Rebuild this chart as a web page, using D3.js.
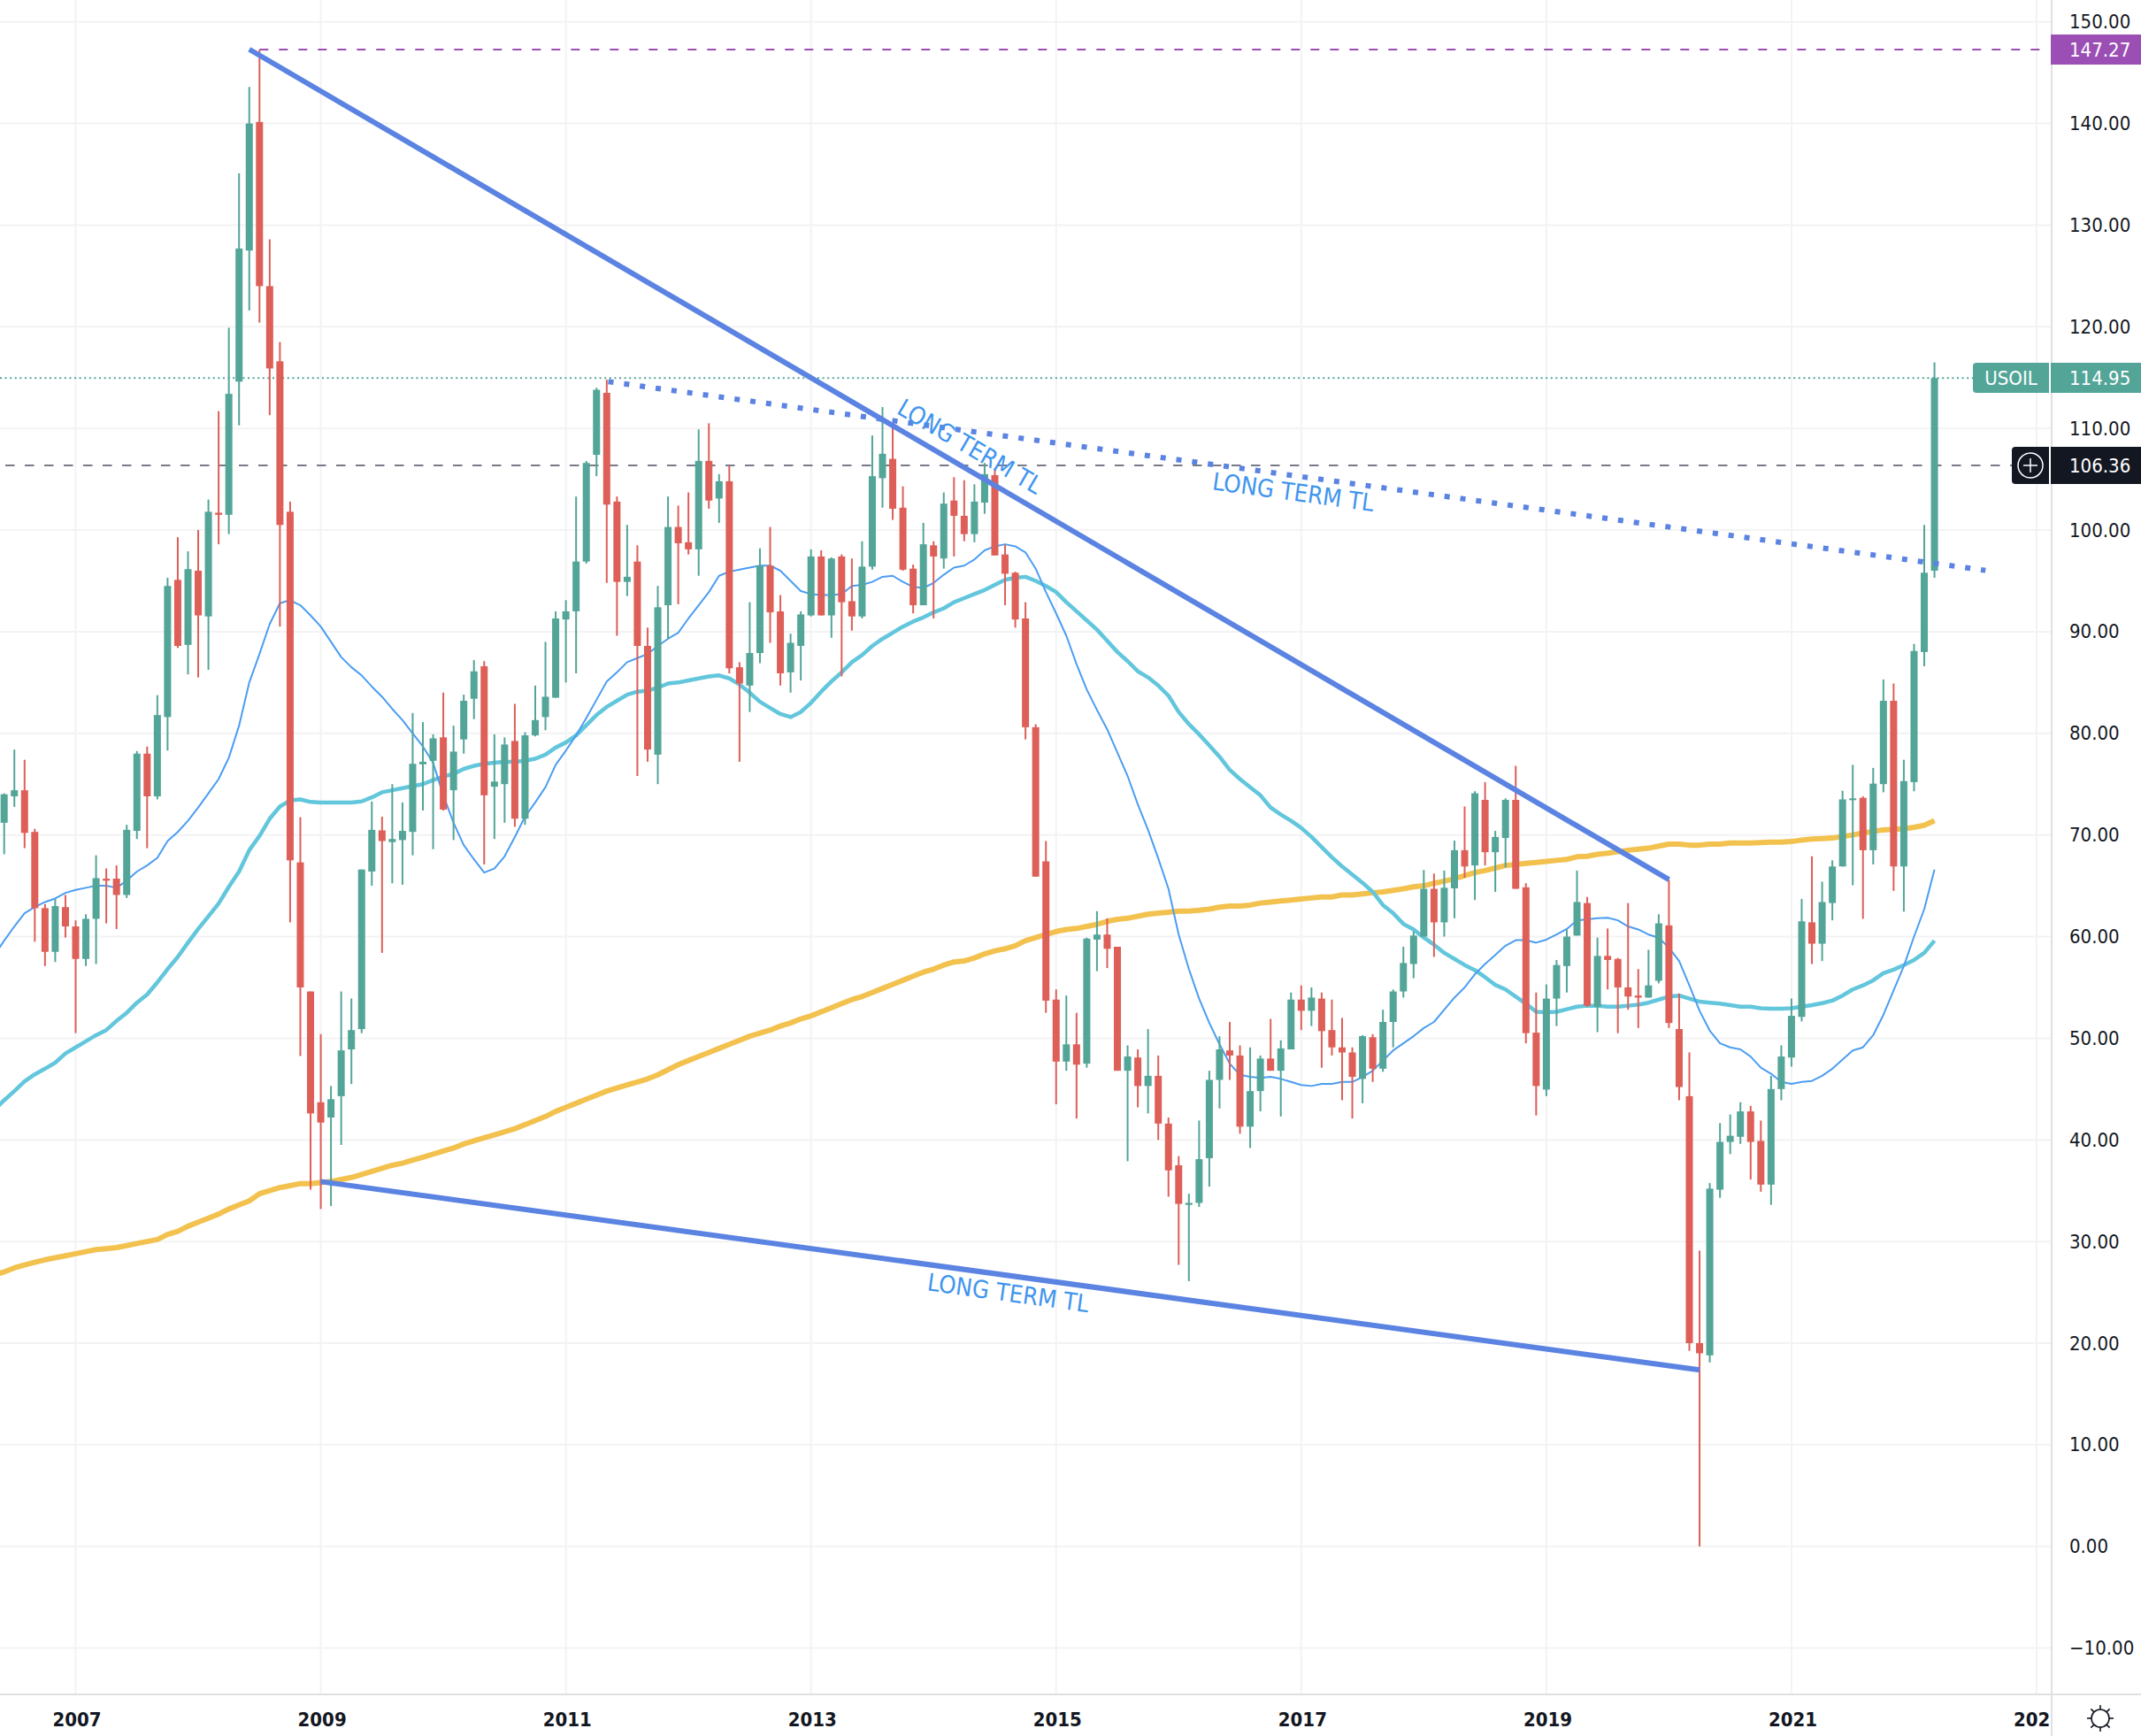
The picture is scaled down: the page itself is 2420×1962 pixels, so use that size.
<!DOCTYPE html>
<html>
<head>
<meta charset="utf-8">
<style>
html, body { margin: 0; padding: 0; background: #fff; }
svg { display: block; }
text { font-family: "DejaVu Sans Condensed", "DejaVu Sans", sans-serif; }
</style>
<script src="https://cdn.jsdelivr.net/npm/d3@7"></script>
</head>
<body>
<div id="chart"></div>
<script>
// monthly candles, first one is Jun 2006 (month index -7, Jan 2007 = 0)
var firstCandle = -7;
var opens = [
  71.2,73.8,74.4,70.3,62.8,58.5,62.9,
  61,57.8,61.75,65.7,65.7,64.1,70.4,78,73.8,81.6,95.1,88.7,
  96,91.5,101.7,101.5,114.6,127.5,140.15,124,116.6,101.8,67.3,54.6,
  43.7,42.2,44.3,48.9,50.9,66.4,70.45,69.3,69.5,70.3,76.95,77.3,
  79.6,74.4,79.4,83.4,86.6,74.75,75,79.25,71.6,79.8,81.6,83.5,
  91.2,92,96.9,107.4,113.5,102.8,94.9,96.9,88.6,77.9,92.6,100.3,
  98.8,98.1,106.8,103.1,104.8,86.5,84.7,87.9,96.5,92,86,88.6,
  91.6,97.4,91.6,97.4,93,91.5,96.4,105.1,107,102.2,96.2,92.6,
  98.5,97.2,102.9,101.4,99.6,102.7,105.4,97.6,95.8,91.3,80.6,67.4,
  53.8,47.7,49.4,47.5,59.7,60.2,59,46.8,48.1,45.3,46.3,41.6,
  37.5,33.6,33.8,38.2,45.9,48.8,48.3,41.3,44.8,48,46.8,48.9,
  53.8,52.7,53.9,50.8,49.1,48.6,46,50.1,47,51.6,54.6,57.3,
  60,64.7,61.4,64.75,68.5,67,73.45,68.3,69.7,73.45,64.85,50.55,
  44.95,53.9,57.1,60.1,63.3,53.1,58.1,57.8,55,54.2,54,55.65,
  61.1,50.9,44.3,20,18.8,35.1,39.8,40.3,42.8,39.9,35.6,45,
  48.1,52.1,61.4,59.3,63.3,66.9,73.5,73.65,68.5,75,83.2,66.9,
  75.2,88,96
];
var highs = [
  74.1,78.4,77.4,70.6,63.2,63.7,64.1,
  61.6,62.2,68,66.7,67,71,78.25,78.7,83.75,95.3,99.3,97.9,
  100,103,111.7,119.9,135.1,143.6,147.27,128.6,118.5,102.8,71.75,54.6,
  50.4,45.3,54.6,53.9,66.6,73.3,71.8,75,73.2,82,81.1,79.9,
  84,80.75,83.8,87.2,87.1,79.9,79.6,82.9,80.1,84.7,89,92,
  93.1,103.3,106.8,114,114.8,103.3,100.5,98.5,90.4,94.5,103.3,102.4,
  103.7,109.9,110.5,105.5,106.3,87,92.9,98.2,100.3,93.6,89.8,92,
  98.1,98,97.3,97.6,97.2,98.9,109.3,112.1,110.5,104.3,96.6,100.7,
  98.9,103.7,105.2,104.9,104.5,106.6,106.1,98.6,95.9,92.9,80.9,69.4,
  54.8,54.2,52.5,59.9,62.5,61.8,59,49.3,48.9,50.9,48.3,42.2,
  38.4,34.7,41.9,46.8,50.2,51.6,49.3,49.1,48.3,51.9,49.8,54.5,
  55.2,55,54.5,53.8,52,49.1,50.3,50.4,52.8,54.8,59,60.5,
  66.55,66.2,66.5,69.45,72.8,74.3,75.2,70.4,73.6,76.8,65.25,54.5,
  55.3,57.7,60.7,66.5,63.9,59.9,60.8,57.9,63.3,56.8,58.7,62.2,
  65.6,54.4,48.6,29.1,35.75,41.65,42.5,43.7,43.35,41.9,46.3,49.3,
  53.9,63.7,67.9,65.4,67.5,74.35,76.9,73.8,76.6,85.3,84.9,77.4,
  88.8,100.5,116.5
];
var lows = [
  68.1,72.75,68.7,59.5,57.1,57.5,59.9,
  50.5,57.1,57.3,61.3,60.75,63.8,69.6,68.7,73.5,78.3,88.4,85.8,
  85.5,86.25,98.6,99.6,110.3,121.6,120.4,111.3,90.5,61.4,48.25,35.1,
  33.2,33.5,39.5,45.5,50.5,65,58.4,65.25,65.1,68,72.4,68.6,
  72.4,69.5,78,81.4,67.1,69.6,71.2,70.8,71,79.7,80.3,83.5,
  85,85.9,96.7,105.3,94.8,89.6,93.5,75.8,77.2,75,89.3,92.7,
  97.6,95.5,102.1,100.7,85.9,77.2,82.1,86.9,88.9,84.7,84,85.2,
  91.5,91.6,89.4,85.6,90.1,91.3,96.1,102.2,101,96,91.8,92.6,
  91.3,96.2,97.4,98.9,98.8,101.6,97.5,92.6,90.4,79.4,65.9,52.5,
  43.5,46.8,42.1,47.1,56.6,56.9,46.8,37.9,43.2,42.6,40,34.4,
  27.7,26.1,33.4,35.4,43.1,45.9,40.6,39.2,42.8,46.8,42.3,48.9,
  50.8,51.2,47.1,48.3,43.9,42.1,43.6,45.7,46.7,49.1,54,55.9,
  60,58,60,61.8,65.8,63.6,67,64.4,66.8,64.7,49.5,42.4,
  44.3,51.2,54.5,60.1,53.1,50.6,54.8,50.5,52.8,51,54,55.4,
  51,43.9,19.25,0,18.1,34.3,38.6,39.6,36.1,34.9,33.6,43.9,
  47.2,51.65,57.3,57.6,61.6,66.9,65.05,61.75,67.1,74.2,64.5,62.45,
  74.3,86.6,95.3
];
var closes = [
  74,74.4,70.2,62.8,58.5,63,61,
  57.8,61.75,65.75,65.5,64.1,70.5,78,73.8,81.8,94.5,88.6,96.15,
  91.6,101.8,101.5,113.4,127.7,140,124,115.9,100.5,67.5,55,42.6,
  41.7,44,48.8,50.8,66.6,70.5,69.4,69.6,70.4,77,77.2,79.5,
  72.5,78.2,83.2,86.1,73.9,75.25,78.9,71.6,79.8,81.3,83.6,91.3,
  92,96.9,106.6,113.8,102.5,94.9,95.4,88.6,78.4,92.4,100.3,98.7,
  98.1,106.8,102.9,104.8,86.4,84.9,87.9,96.5,91.9,85.9,88.9,91.7,
  97.4,91.6,97.2,92.9,91.5,96.4,105.3,107.5,102.1,96.1,92.6,98.6,
  97.4,102.6,101.4,99.6,102.8,105.5,97.5,95.7,91.2,80.6,65.9,53.7,
  47.7,49.4,47.4,59.8,60.2,58.8,46.8,48.2,45.3,46.3,41.6,37,
  33.7,33.8,38.1,45.9,48.9,48.3,41.3,44.8,48,46.8,49,53.8,
  52.7,54,50.7,49.1,48.6,46.2,50.2,47,51.6,54.6,57.4,60.1,
  64.7,61.4,64.8,68.5,66.9,74.1,68.3,69.8,73.45,64.7,50.5,45.3,
  53.9,57.2,60,63.4,53.2,58.1,57.7,55,54.1,54,55.2,61.3,
  51.5,45.2,20,19,35.2,39.8,40.4,42.8,39.8,35.6,45,48.2,
  52.2,61.5,59.3,63.4,66.9,73.5,73.6,68.5,75.05,83.2,66.9,75.3,
  88.1,95.8,114.95
];

// moving averages, first point is May 2006 (month index -8), one row per year
var firstAverage = -8;
var fastAverage = [
  58.1,59.6,61,62.3,62.9,63.4,63.75,64.3,
  64.6,64.8,65,65,64.8,65.5,66.4,67,67.75,69.4,70.3,71.4,
  72.7,74.1,75.5,77.6,80.75,85,87.8,90.75,92.8,93.1,92.6,91.6,
  90.5,89,87.5,86.5,85.7,84.6,83.6,82.4,81.3,80,78.7,77.1,
  73.9,71.2,69,67.6,66.3,66.7,67.9,69.8,71.8,73.2,74.7,76.9,
  78.3,79.8,81.5,83.3,85.1,86,87,87.4,87.8,88.6,89.3,89.9,
  91.3,92.6,93.9,95.5,95.9,96.1,96.3,96.5,96.5,96,95,94,
  93.7,93.6,93.6,93.7,94.5,94.6,94.9,95.4,95.5,94.9,94.4,94.3,
  94.8,95.6,96.3,96.5,97.1,98,98.4,98.6,98.4,97.8,96.2,93.9,
  91.8,89.6,86.8,84.3,82.3,80.4,78.1,75.8,73,70.5,67.7,64.7,
  60.2,56.8,53.9,51.5,49.4,47.5,46.4,46.2,46.1,46.2,46,45.7,
  45.4,45.3,45.5,45.5,45.7,45.7,46.2,46.8,47.8,48.8,49.5,50.2,
  51,51.6,52.8,54,55,56.3,57.3,58.2,59.1,59.65,59.65,59.4,
  59.7,60.2,60.75,61.6,61.7,61.8,61.85,61.6,61,60.7,60.2,59.9,
  58.9,57.6,55.2,52.7,50.75,49.5,49.1,48.9,48.2,47.1,46.5,45.7,
  45.5,45.7,45.8,46.3,47,47.9,48.8,49.1,50.3,52.3,54.7,57.1,
  60,62.7,66.6
];
var midAverage = [
  42.9,43.9,44.8,45.75,46.45,47,47.6,48.5,
  49.1,49.7,50.3,50.8,51.7,52.5,53.5,54.3,55.5,56.8,58,59.4,
  60.75,62,63.25,64.9,66.4,68.5,69.9,71.6,72.8,73.4,73.5,73.25,
  73.2,73.2,73.2,73.2,73.3,73.7,74.2,74.4,74.6,74.8,75,75.4,
  75.75,76,76.5,76.8,77,77.1,77.2,77.2,77.3,77.5,77.9,78.6,
  79.1,79.8,80.8,81.8,82.6,83.2,83.8,84.1,84.2,84.5,84.9,85,
  85.2,85.4,85.6,85.7,85.4,84.8,84,83.1,82.5,81.9,81.6,82.1,
  83,84.1,85.1,86,87,87.7,88.6,89.3,89.9,90.5,91,91.4,
  91.9,92.3,92.9,93.3,93.7,94.1,94.6,95.1,95.3,95.4,95,94.5,
  93.9,92.9,92,91.1,90.2,89.1,88,87.1,86.1,85.5,84.7,83.7,
  82.1,80.9,79.9,78.8,77.7,76.4,75.5,74.7,73.9,72.7,72,71.4,
  70.7,69.8,68.8,67.8,66.9,66.1,65.3,64.4,63.1,62.3,61.25,60.7,
  59.9,59.2,58.4,57.8,57.2,56.7,56,55.25,54.8,54.1,53.4,52.6,
  52.55,52.6,52.85,53.1,53.2,53.2,53.1,53.1,53.2,53.3,53.5,53.8,
  54.1,54.2,53.9,53.6,53.5,53.4,53.25,53.1,53.1,52.95,52.9,52.9,
  52.95,53.1,53.25,53.45,53.7,54.2,54.8,55.2,55.7,56.4,56.75,57.2,
  57.7,58.4,59.6
];
var slowAverage = [
  26.7,27,27.4,27.7,27.95,28.2,28.4,28.6,
  28.8,29,29.2,29.3,29.4,29.6,29.8,30,30.2,30.7,31,31.5,
  31.9,32.3,32.7,33.2,33.6,34,34.7,35,35.3,35.5,35.7,35.7,
  35.8,35.9,36.1,36.3,36.6,36.9,37.2,37.5,37.7,38,38.3,38.6,
  38.9,39.2,39.6,39.9,40.2,40.5,40.8,41.1,41.5,41.9,42.3,42.8,
  43.2,43.6,44,44.4,44.8,45.1,45.4,45.7,46,46.4,46.9,47.4,
  47.8,48.2,48.6,49,49.4,49.8,50.2,50.5,50.8,51.2,51.5,51.9,
  52.2,52.6,53,53.4,53.8,54.1,54.5,54.9,55.3,55.7,56.1,56.5,
  56.8,57.2,57.5,57.6,57.9,58.3,58.6,58.8,59.1,59.6,59.9,60.2,
  60.5,60.7,60.8,61,61.2,61.5,61.7,61.8,62,62.2,62.3,62.4,
  62.5,62.5,62.6,62.7,62.9,63,63,63.1,63.3,63.4,63.5,63.6,
  63.7,63.8,63.9,63.9,64.1,64.1,64.2,64.3,64.4,64.55,64.7,64.9,
  65,65.25,65.45,65.7,66,66.3,66.5,66.75,67,67.1,67.2,67.3,
  67.4,67.5,67.6,67.85,67.9,68.1,68.2,68.35,68.5,68.6,68.7,68.9,
  69.1,69.1,69,69,69.1,69.1,69.2,69.2,69.2,69.25,69.3,69.3,
  69.35,69.5,69.6,69.65,69.7,69.85,70,70.2,70.35,70.5,70.55,70.6,
  70.75,70.95,71.4
];

var priceTicks = [150,140,130,120,110,100,90,80,70,60,50,40,30,20,10,0,-10];
var yearTicks = [0,24,48,72,96,120,144,168,192];
var yearLabels = ["2007","2009","2011","2013","2015","2017","2019","2021","202"];

// trend lines as [month index, price] pairs
var fallingLine = [[17,147.3],[156,65.6]];
var risingLine = [[24,35.9],[159,17.36]];
var dottedLine = [[52.15,114.6],[187,96.03]];
var lineNotes = [
  {text:"LONG TERM TL", month:87.5, price:108.1, angle:30.3},
  {text:"LONG TERM TL", month:119.2, price:103.6, angle:7.8},
  {text:"LONG TERM TL", month:91.3, price:24.8, angle:7.8}
];

var highPrice = 147.27, lastPrice = 114.95, otherPrice = 106.36;

var width = 2420, height = 1962,
    paneRight = 2319, paneBottom = 1915;

var upColor = "#53a598", downColor = "#dd5f58", gridColor = "#f3f3f5", borderColor = "#e0e0e3",
    darkColor = "#131722", purple = "#9b4fb4", trendColor = "#5b83e2", noteColor = "#3f95ee";

var x = d3.scaleLinear().domain([0,192]).range([85.5,2302]);
var y = d3.scaleLinear().domain([-10,150]).range([1862.6,24.7]);

var svg = d3.select("#chart").append("svg")
    .attr("width", width)
    .attr("height", height);

svg.append("clipPath").attr("id","pane").append("rect")
    .attr("width", paneRight).attr("height", paneBottom);

// grid
svg.append("g").selectAll("line").data(priceTicks).enter().append("line")
    .attr("x1",0).attr("x2",paneRight)
    .attr("y1",function(d){ return y(d); }).attr("y2",function(d){ return y(d); })
    .attr("stroke",gridColor).attr("stroke-width",2);
svg.append("g").selectAll("line").data(yearTicks).enter().append("line")
    .attr("x1",function(d){ return x(d); }).attr("x2",function(d){ return x(d); })
    .attr("y1",0).attr("y2",paneBottom)
    .attr("stroke",gridColor).attr("stroke-width",2);

var pane = svg.append("g").attr("clip-path","url(#pane)");

// moving averages go under the candles
function averagePath(values){
  return d3.line()
    .x(function(d,i){ return x(firstAverage + i); })
    .y(function(d){ return y(d); })(values);
}
pane.append("path").attr("d",averagePath(slowAverage))
    .attr("fill","none").attr("stroke","#f2c14e").attr("stroke-width",6).attr("stroke-linejoin","round");
pane.append("path").attr("d",averagePath(midAverage))
    .attr("fill","none").attr("stroke","#62c6dc").attr("stroke-width",4.5).attr("stroke-linejoin","round");
pane.append("path").attr("d",averagePath(fastAverage))
    .attr("fill","none").attr("stroke","#4b9df2").attr("stroke-width",2).attr("stroke-linejoin","round");

// price lines
pane.append("line").attr("x1",x(18)).attr("x2",2306)
    .attr("y1",y(highPrice)).attr("y2",y(highPrice))
    .attr("stroke",purple).attr("stroke-width",2).attr("stroke-dasharray","10 12");
pane.append("line").attr("x1",0).attr("x2",2230)
    .attr("y1",y(lastPrice)).attr("y2",y(lastPrice))
    .attr("stroke",upColor).attr("stroke-width",2).attr("stroke-dasharray","2 3.6");
pane.append("line").attr("x1",6).attr("x2",2274)
    .attr("y1",y(otherPrice)).attr("y2",y(otherPrice))
    .attr("stroke","#787b86").attr("stroke-width",2).attr("stroke-dasharray","10.5 11.5");

// candles
var candle = pane.append("g").selectAll("g").data(opens).enter().append("g")
    .attr("fill",function(d,i){ return closes[i] >= d ? upColor : downColor; });
candle.append("rect")
    .attr("x",function(d,i){ return x(firstCandle + i) - 1; })
    .attr("width",2)
    .attr("y",function(d,i){ return y(highs[i]); })
    .attr("height",function(d,i){ return y(lows[i]) - y(highs[i]); });
candle.append("rect")
    .attr("x",function(d,i){ return x(firstCandle + i) - 4; })
    .attr("width",8)
    .attr("y",function(d,i){ return y(Math.max(d,closes[i])); })
    .attr("height",function(d,i){ return Math.max(2, Math.abs(y(d) - y(closes[i]))); });

// trend lines and their notes
function trendPath(points){
  return d3.line().x(function(d){ return x(d[0]); }).y(function(d){ return y(d[1]); })(points);
}
pane.append("path").attr("d",trendPath(fallingLine)).attr("fill","none").attr("stroke",trendColor).attr("stroke-width",6);
pane.append("path").attr("d",trendPath(risingLine)).attr("fill","none").attr("stroke",trendColor).attr("stroke-width",6);
pane.append("path").attr("d",trendPath(dottedLine)).attr("fill","none").attr("stroke",trendColor).attr("stroke-width",6).attr("stroke-dasharray","6 12");

pane.selectAll("text.note").data(lineNotes).enter().append("text")
    .attr("class","note")
    .attr("text-anchor","middle")
    .attr("dominant-baseline","middle")
    .attr("font-size",27.5)
    .attr("fill",noteColor)
    .attr("transform",function(d){ return "translate(" + x(d.month) + "," + y(d.price) + ") rotate(" + d.angle + ")"; })
    .text(function(d){ return d.text; });

// right and bottom borders
svg.append("line").attr("x1",paneRight).attr("x2",paneRight).attr("y1",0).attr("y2",height)
    .attr("stroke",borderColor).attr("stroke-width",2);
svg.append("line").attr("x1",0).attr("x2",width).attr("y1",paneBottom).attr("y2",paneBottom)
    .attr("stroke",borderColor).attr("stroke-width",2);

// price axis
var priceAxis = svg.append("g")
    .attr("transform","translate(2339,0)")
    .call(d3.axisRight(y).tickValues(priceTicks).tickFormat(d3.format(".2f")).tickSize(0).tickPadding(0));
priceAxis.select(".domain").remove();
priceAxis.selectAll("text")
    .attr("font-size",22).attr("font-family",null).attr("fill",darkColor);
priceAxis.attr("font-family",null);

// time axis, labels are left anchored so that the cut off last one lands right
var timeAxis = svg.append("g")
    .attr("transform","translate(0," + paneBottom + ")")
    .call(d3.axisBottom(x).tickValues(yearTicks).tickFormat(function(d,i){ return yearLabels[i]; }).tickSize(0).tickPadding(0));
timeAxis.select(".domain").remove();
timeAxis.attr("font-family",null);
timeAxis.selectAll("text")
    .attr("text-anchor","start")
    .attr("dx",-26.5)
    .attr("y",28)
    .attr("dy","0.36em")
    .attr("font-size",22)
    .attr("font-weight","bold")
    .attr("fill",darkColor);

// price tags
function priceTag(price, color, top, bottom){
  svg.append("rect").attr("x",2318).attr("y",top).attr("width",102).attr("height",bottom - top).attr("fill",color);
  svg.append("text").attr("x",2339).attr("y",(top + bottom) / 2).attr("dy","0.36em")
    .attr("font-size",22).attr("fill","#fff").text(price.toFixed(2));
}
priceTag(highPrice, purple, 39, 73);
priceTag(lastPrice, upColor, 410, 444);
priceTag(otherPrice, darkColor, 505, 547);

// USOIL label next to the axis
svg.append("path").attr("fill",upColor)
    .attr("d","M2316,410H2234a4,4 0 0 0 -4,4V440a4,4 0 0 0 4,4H2316Z");
svg.append("text").attr("x",2273).attr("y",427).attr("dy","0.36em").attr("text-anchor","middle")
    .attr("font-size",22).attr("fill","#fff").text("USOIL");

// plus button
svg.append("path").attr("fill",darkColor)
    .attr("d","M2316,505H2278a4,4 0 0 0 -4,4V543a4,4 0 0 0 4,4H2316Z");
svg.append("circle").attr("cx",2295).attr("cy",526).attr("r",14)
    .attr("fill","none").attr("stroke","#fff").attr("stroke-width",1.5);
svg.append("path").attr("d","M2287,526H2303M2295,518V534").attr("stroke","#fff").attr("stroke-width",1.5);

// settings sun
var sun = svg.append("g").attr("transform","translate(2374,1942)")
    .attr("fill","none").attr("stroke",darkColor).attr("stroke-width",1.6);
sun.append("circle").attr("r",10);
sun.selectAll("line").data(d3.range(8)).enter().append("line")
    .attr("x1",function(d){ return 10 * Math.cos(d * Math.PI / 4); })
    .attr("y1",function(d){ return 10 * Math.sin(d * Math.PI / 4); })
    .attr("x2",function(d){ return 15 * Math.cos(d * Math.PI / 4); })
    .attr("y2",function(d){ return 15 * Math.sin(d * Math.PI / 4); });
</script>
</body>
</html>
